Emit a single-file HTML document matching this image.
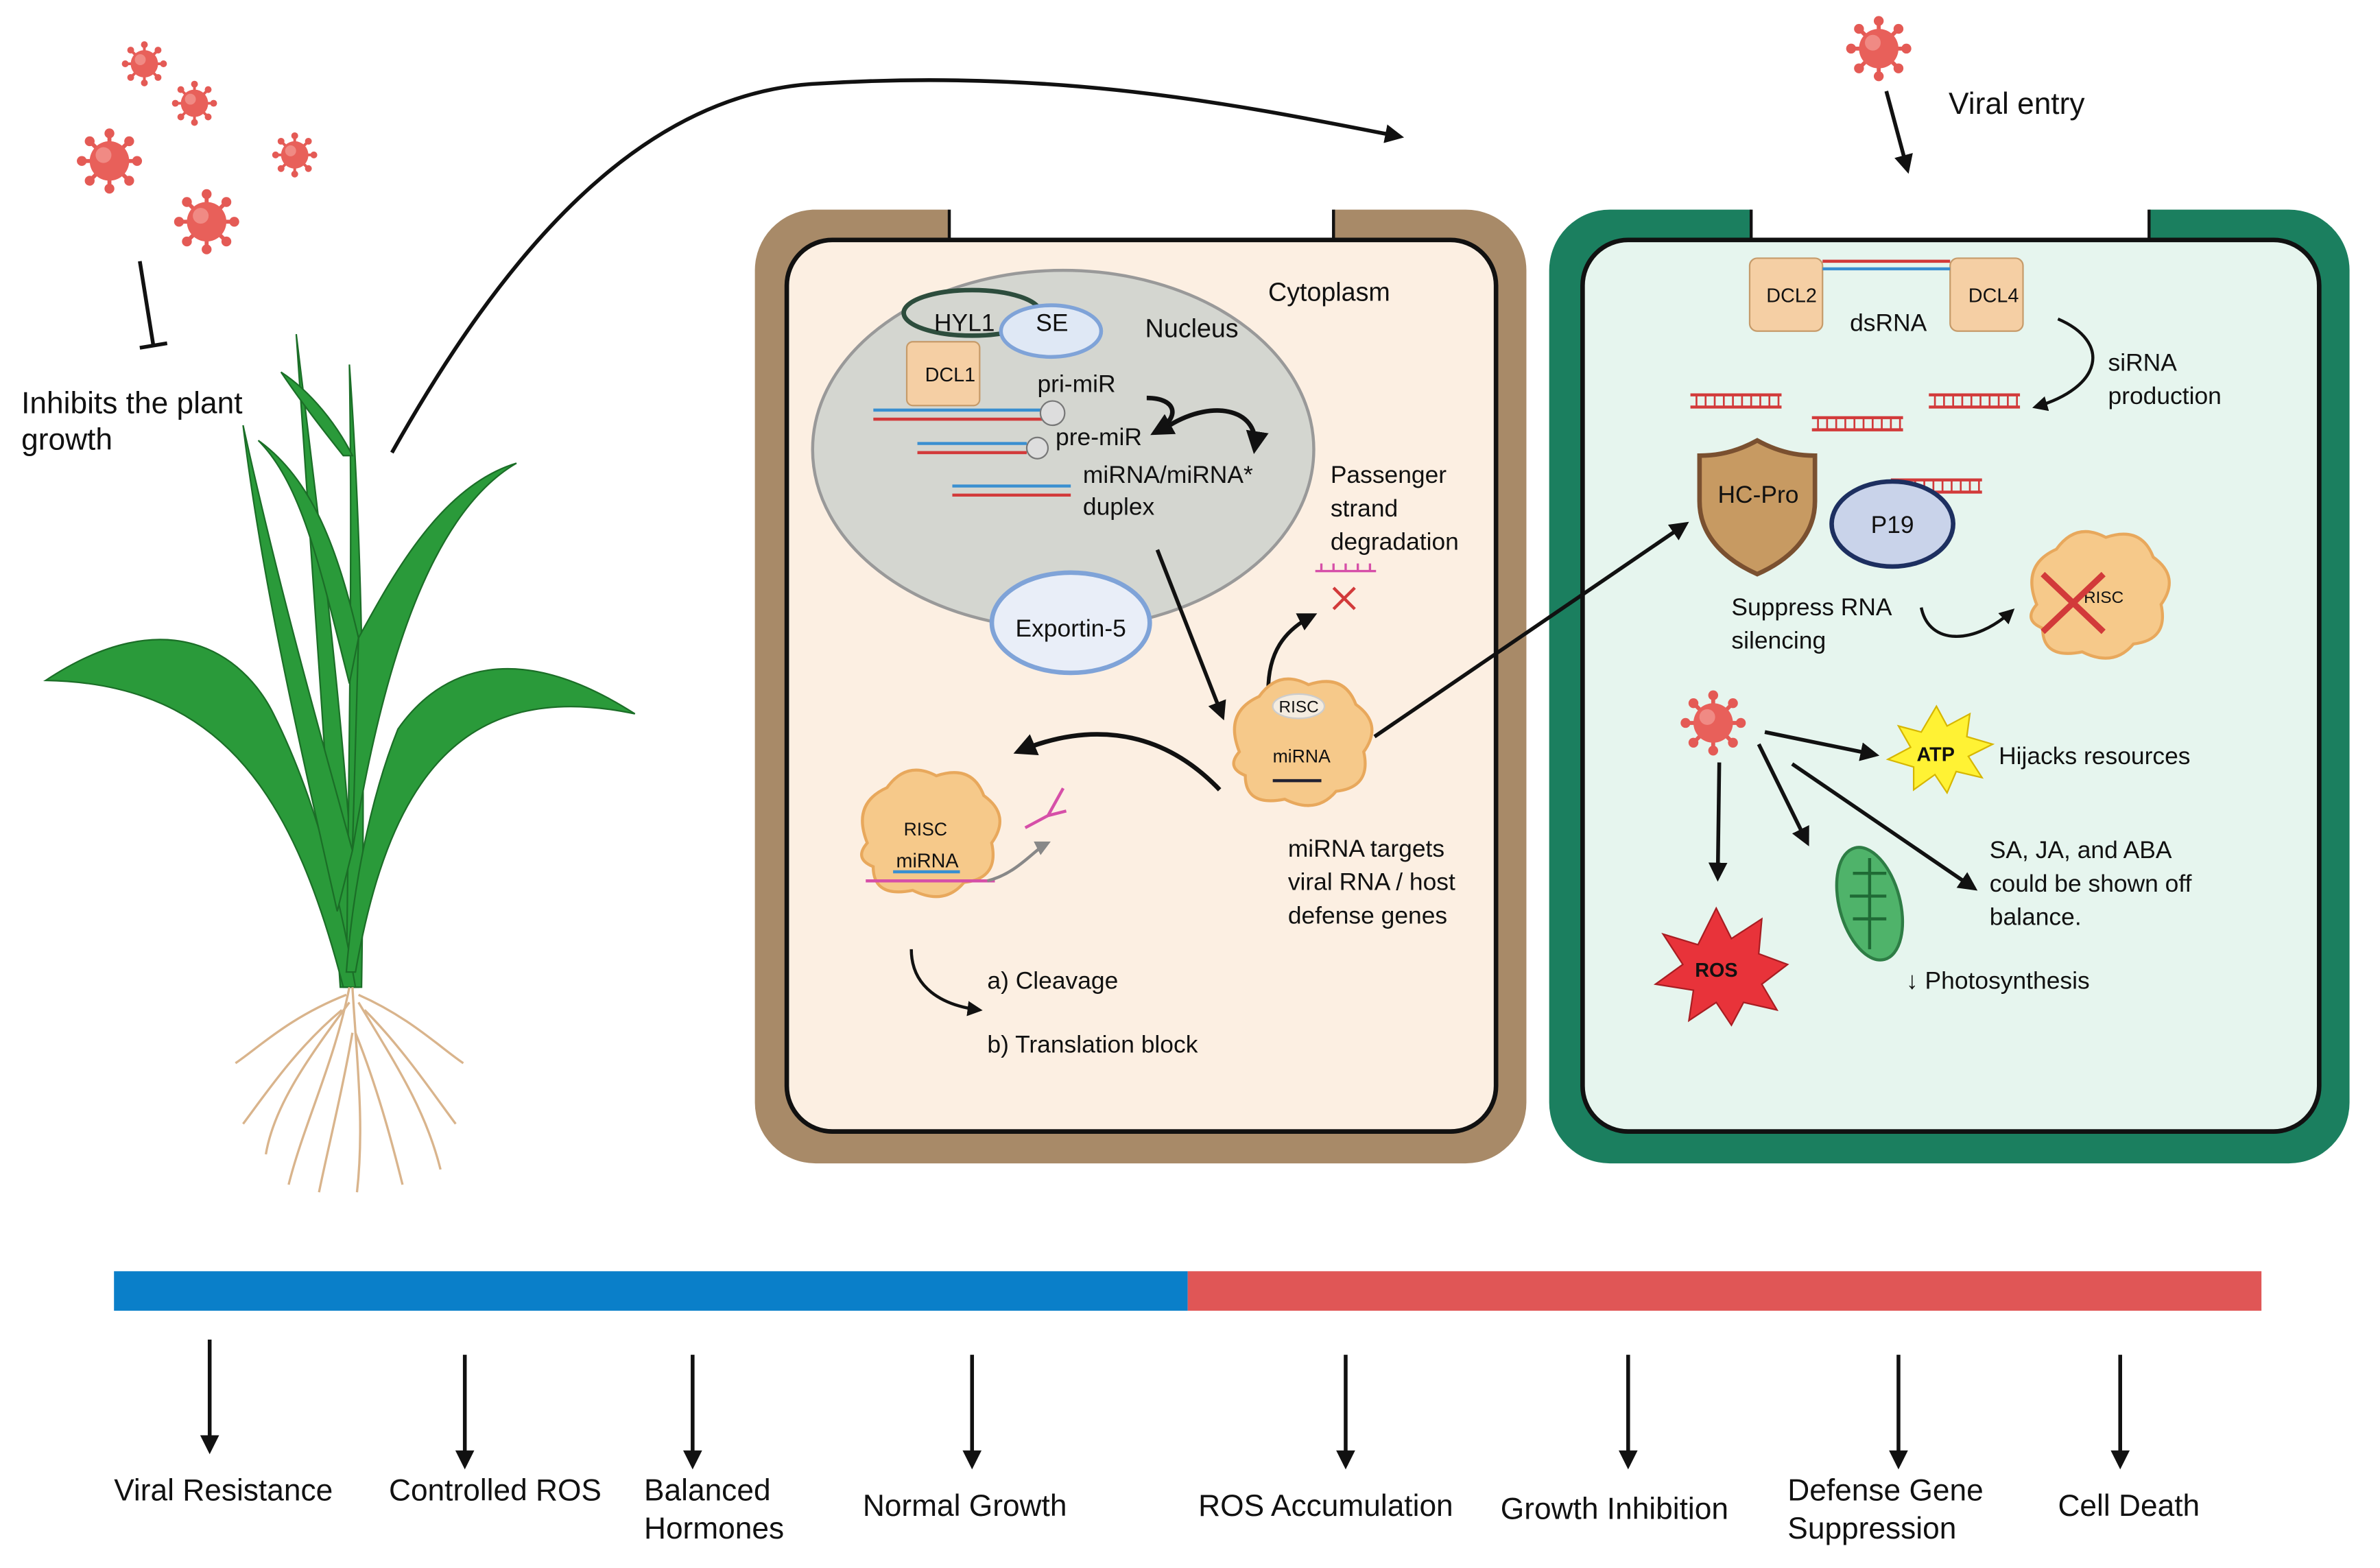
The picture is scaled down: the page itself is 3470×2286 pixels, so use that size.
<!DOCTYPE html>
<html><head><meta charset="utf-8"><style>
html,body{margin:0;padding:0;background:#fff}
svg{display:block}
text{font-family:"Liberation Sans",sans-serif;fill:#111}
</style></head><body>
<svg width="3470" height="2286" viewBox="0 0 1567 1032.4" xmlns="http://www.w3.org/2000/svg">
<defs>
<marker id="ah" viewBox="0 0 10 10" refX="8" refY="5" markerWidth="5" markerHeight="5" orient="auto-start-reverse"><path d="M0,0 L10,5 L0,10 z" fill="#111"/></marker>
<marker id="ahg" viewBox="0 0 10 10" refX="8" refY="5" markerWidth="5" markerHeight="5" orient="auto"><path d="M0,0 L10,5 L0,10 z" fill="#888"/></marker>
<g id="virus">
<g stroke="#e45a55" stroke-width="2">
<line x1="0" y1="-14" x2="0" y2="14"/><line x1="-14" y1="0" x2="14" y2="0"/>
<line x1="-10" y1="-10" x2="10" y2="10"/><line x1="-10" y1="10" x2="10" y2="-10"/>
</g>
<g fill="#e45a55"><circle cx="0" cy="-14" r="2.5"/><circle cx="0" cy="14" r="2.5"/><circle cx="-14" cy="0" r="2.5"/><circle cx="14" cy="0" r="2.5"/><circle cx="10" cy="10" r="2.5"/><circle cx="-10" cy="-10" r="2.5"/><circle cx="10" cy="-10" r="2.5"/><circle cx="-10" cy="10" r="2.5"/></g>
<circle r="10" fill="#e8605a"/><circle cx="-3" cy="-3" r="4" fill="#f08a84"/>
</g>
<g id="rna"><line x1="0" y1="0" x2="60" y2="0" stroke="#d23a3a" stroke-width="2"/><line x1="0" y1="8" x2="60" y2="8" stroke="#d23a3a" stroke-width="2"/>
<path d="M4,0v8M10,0v8M16,0v8M22,0v8M28,0v8M34,0v8M40,0v8M46,0v8M52,0v8M58,0v8" stroke="#d23a3a" stroke-width="1.2"/></g>
<g id="risc"><path d="M-30,0 q-8,-20 10,-28 q10,-14 25,-6 q18,-6 24,10 q14,10 4,24 q4,18 -14,20 q-10,12 -26,4 q-20,4 -20,-12 q-10,-4 -3,-12z" fill="#f6c98a" stroke="#e8a85c" stroke-width="1.5"/></g>
</defs>

<use href="#virus" transform="translate(95,42) scale(0.9)"/>
<use href="#virus" transform="translate(128,68) scale(0.9)"/>
<use href="#virus" transform="translate(72,106) scale(1.3)"/>
<use href="#virus" transform="translate(194,102) scale(0.9)"/>
<use href="#virus" transform="translate(136,146) scale(1.3)"/>
<line x1="92" y1="172" x2="101" y2="228" stroke="#111" stroke-width="2.5"/>
<line x1="92" y1="229" x2="110" y2="226" stroke="#111" stroke-width="2.5"/>
<text x="14" y="272" font-size="20">Inhibits the plant</text>
<text x="14" y="296" font-size="20">growth</text>

<path d="M258,298 C330,170 420,60 540,55 C700,45 820,70 922,90" fill="none" stroke="#111" stroke-width="2.5" marker-end="url(#ah)"/>

<g fill="#2a9a3a" stroke="#1b6e27" stroke-width="1">
<path d="M224,650 C215,500 205,380 195,220 C212,360 230,500 236,650z"/>
<path d="M228,650 C230,480 232,360 230,240 C240,380 240,520 238,650z"/>
<path d="M226,650 C195,530 150,450 30,448 C110,395 160,430 180,470 C205,520 222,580 234,650z"/>
<path d="M234,640 C255,520 300,445 418,470 C340,420 290,440 262,480 C242,530 232,590 228,640z"/>
<path d="M232,560 C250,450 280,340 340,305 C290,320 258,380 236,420z"/>
<path d="M222,600 C195,480 172,380 160,280 C182,380 207,470 232,560z"/>
<path d="M230,450 C212,380 200,320 170,290 C205,315 222,360 236,420z"/>
<path d="M226,300 C210,280 195,260 185,245 C205,258 222,280 232,300z"/>
</g>
<g stroke="#d9b48c" stroke-width="1.5" fill="none">
<path d="M230,650 C220,700 200,740 190,780"/><path d="M232,650 C235,700 240,740 235,785"/>
<path d="M228,655 C190,670 170,690 155,700"/><path d="M236,655 C270,670 290,690 305,700"/>
<path d="M230,660 C200,700 180,730 175,760"/><path d="M236,660 C260,700 280,730 290,770"/>
<path d="M225,665 C195,690 175,720 160,740"/><path d="M240,665 C265,690 285,720 300,740"/>
<path d="M232,680 C225,720 215,760 210,785"/><path d="M234,680 C250,720 260,760 265,780"/>
</g>

<!-- LEFT CELL -->
<path d="M535,138 H625 V158 H878 V138 H965 A40,40 0 0 1 1005,178 V726 A40,40 0 0 1 965,766 H537 A40,40 0 0 1 497,726 V178 A40,40 0 0 1 535,138z" fill="#a88a68"/>
<rect x="518" y="158" width="467" height="587" rx="30" fill="#fcefe2" stroke="#111" stroke-width="3"/>
<path d="M625,138 V158 M878,138 V158" stroke="#111" stroke-width="2"/>
<text x="835" y="198" font-size="17">Cytoplasm</text>
<ellipse cx="700" cy="296" rx="165" ry="118" fill="#d4d6d0" stroke="#999" stroke-width="2"/>
<text x="754" y="222" font-size="17">Nucleus</text>
<ellipse cx="640" cy="206" rx="45" ry="15" fill="#d4d6d0" stroke="#2d4d3d" stroke-width="3"/>
<text x="615" y="218" font-size="16">HYL1</text>
<ellipse cx="692" cy="218" rx="33" ry="17" fill="#dfe8f5" stroke="#7fa3d8" stroke-width="2.5"/>
<text x="682" y="218" font-size="16">SE</text>
<rect x="597" y="225" width="48" height="42" rx="4" fill="#f5cfa4" stroke="#c69b6a"/>
<text x="609" y="251" font-size="13">DCL1</text>
<g stroke-width="2"><line x1="575" y1="270" x2="690" y2="270" stroke="#3a8fd0"/><line x1="575" y1="276" x2="690" y2="276" stroke="#d23a3a"/></g>
<circle cx="693" cy="272" r="8" fill="#ddd" stroke="#777"/>
<text x="683" y="258" font-size="16">pri-miR</text>
<g stroke-width="2"><line x1="604" y1="292" x2="676" y2="292" stroke="#3a8fd0"/><line x1="604" y1="298" x2="676" y2="298" stroke="#d23a3a"/></g>
<circle cx="683" cy="295" r="7" fill="#ddd" stroke="#777"/>
<text x="695" y="293" font-size="16">pre-miR</text>
<g stroke-width="2"><line x1="627" y1="320" x2="705" y2="320" stroke="#3a8fd0"/><line x1="627" y1="326" x2="705" y2="326" stroke="#d23a3a"/></g>
<text x="713" y="318" font-size="16">miRNA/miRNA*</text>
<text x="713" y="339" font-size="16">duplex</text>
<path d="M755,262 C775,262 778,275 760,285" fill="none" stroke="#111" stroke-width="3" marker-end="url(#ah)"/>
<path d="M770,280 C800,262 830,270 826,296" fill="none" stroke="#111" stroke-width="3" marker-end="url(#ah)"/>
<ellipse cx="705" cy="410" rx="52" ry="33" fill="#e9eef8" stroke="#7fa3d8" stroke-width="3"/>
<text x="705" y="419" font-size="16" text-anchor="middle">Exportin-5</text>
<line x1="762" y1="362" x2="805" y2="472" stroke="#111" stroke-width="2.5" marker-end="url(#ah)"/>
<text x="876" y="318" font-size="16">Passenger</text>
<text x="876" y="340" font-size="16">strand</text>
<text x="876" y="362" font-size="16">degradation</text>
<path d="M866,376 h40 M870,376v-5 M878,376v-5 M886,376v-5 M894,376v-5 M902,376v-5" stroke="#d64fa8" stroke-width="1.5"/>
<path d="M878,387 l14,14 M892,387 l-14,14" stroke="#d23a3a" stroke-width="2"/>
<path d="M835,455 C835,430 845,415 865,405" fill="none" stroke="#111" stroke-width="2.5" marker-end="url(#ah)"/>
<use href="#risc" transform="translate(855,495) scale(1.3)"/>
<ellipse cx="855" cy="465" rx="17" ry="8" fill="#f4ece0" stroke="#ccc"/>
<text x="842" y="469" font-size="11" fill="#7a5a3a">RISC</text>
<text x="838" y="502" font-size="12">miRNA</text>
<path d="M838,514 h32" stroke="#223" stroke-width="2"/>
<text x="848" y="564" font-size="16">miRNA targets</text>
<text x="848" y="586" font-size="16">viral RNA / host</text>
<text x="848" y="608" font-size="16">defense genes</text>
<path d="M803,520 C760,475 710,478 670,495" fill="none" stroke="#111" stroke-width="3" marker-end="url(#ah)"/>
<use href="#risc" transform="translate(610,555) scale(1.3)"/>
<text x="595" y="550" font-size="12" fill="#7a5a3a">RISC</text>
<text x="590" y="571" font-size="13">miRNA</text>
<line x1="570" y1="580" x2="655" y2="580" stroke="#d64fa8" stroke-width="2"/>
<line x1="588" y1="574" x2="632" y2="574" stroke="#3a8fd0" stroke-width="2"/>
<path d="M650,580 C670,575 680,560 690,555" fill="none" stroke="#888" stroke-width="2" marker-end="url(#ahg)"/>
<path d="M675,545 l15,-8 l10,-18 M690,537 l12,-3" stroke="#d64fa8" stroke-width="2" fill="none"/>
<path d="M600,625 C600,650 620,662 645,665" fill="none" stroke="#111" stroke-width="2" marker-end="url(#ah)"/>
<text x="650" y="651" font-size="16">a) Cleavage</text>
<text x="650" y="693" font-size="16">b) Translation block</text>

<!-- RIGHT CELL -->
<path d="M1060,138 H1153 V158 H1415 V138 H1507 A40,40 0 0 1 1547,178 V726 A40,40 0 0 1 1507,766 H1060 A40,40 0 0 1 1020,726 V178 A40,40 0 0 1 1060,138z" fill="#1b7f5f"/>
<rect x="1042" y="158" width="485" height="587" rx="30" fill="#e6f5ee" stroke="#111" stroke-width="3"/>
<path d="M1153,138 V158 M1415,138 V158" stroke="#111" stroke-width="2"/>
<line x1="905" y1="485" x2="1110" y2="345" stroke="#111" stroke-width="2.5" marker-end="url(#ah)"/>
<use href="#virus" transform="translate(1237,32) scale(1.3)"/>
<line x1="1242" y1="60" x2="1256" y2="112" stroke="#111" stroke-width="2.5" marker-end="url(#ah)"/>
<text x="1283" y="75" font-size="20">Viral entry</text>
<rect x="1152" y="170" width="48" height="48" rx="5" fill="#f5cfa4" stroke="#c69b6a"/>
<text x="1163" y="199" font-size="13">DCL2</text>
<rect x="1284" y="170" width="48" height="48" rx="5" fill="#f5cfa4" stroke="#c69b6a"/>
<text x="1296" y="199" font-size="13">DCL4</text>
<line x1="1200" y1="172" x2="1284" y2="172" stroke="#d23a3a" stroke-width="2"/>
<line x1="1200" y1="177" x2="1284" y2="177" stroke="#3a8fd0" stroke-width="2"/>
<text x="1218" y="218" font-size="16">dsRNA</text>
<path d="M1355,210 C1390,225 1385,255 1340,268" fill="none" stroke="#111" stroke-width="2" marker-end="url(#ah)"/>
<text x="1388" y="244" font-size="16">siRNA</text>
<text x="1388" y="266" font-size="16">production</text>
<use href="#rna" transform="translate(1113,260)"/>
<use href="#rna" transform="translate(1193,275)"/>
<use href="#rna" transform="translate(1270,260)"/>
<use href="#rna" transform="translate(1245,316)"/>
<path d="M1157,290 C1175,300 1190,300 1195,300 V330 C1195,355 1175,370 1157,378 C1139,370 1119,355 1119,330 V300 C1124,300 1139,300 1157,290z" fill="#c79a62" stroke="#7a5030" stroke-width="3"/>
<text x="1131" y="331" font-size="16">HC-Pro</text>
<ellipse cx="1246" cy="345" rx="40" ry="28" fill="#c9d3ea" stroke="#1d2f60" stroke-width="3"/>
<text x="1246" y="351" font-size="16" text-anchor="middle">P19</text>
<text x="1140" y="405" font-size="16">Suppress RNA</text>
<text x="1140" y="427" font-size="16">silencing</text>
<path d="M1265,400 C1270,425 1300,425 1325,402" fill="none" stroke="#111" stroke-width="2" marker-end="url(#ah)"/>
<use href="#risc" transform="translate(1380,398) scale(1.3)"/>
<text x="1372" y="397" font-size="11" fill="#7a5a3a">RISC</text>
<path d="M1345,378 l40,38 M1385,378 l-40,38" stroke="#d23a3a" stroke-width="4"/>
<use href="#virus" transform="translate(1128,476) scale(1.3)"/>
<line x1="1132" y1="502" x2="1131" y2="578" stroke="#111" stroke-width="2.5" marker-end="url(#ah)"/>
<line x1="1158" y1="490" x2="1190" y2="555" stroke="#111" stroke-width="2.5" marker-end="url(#ah)"/>
<line x1="1162" y1="482" x2="1235" y2="497" stroke="#111" stroke-width="2.5" marker-end="url(#ah)"/>
<line x1="1180" y1="503" x2="1300" y2="585" stroke="#111" stroke-width="2.5" marker-end="url(#ah)"/>
<polygon points="1275,465 1282,478 1297,470 1295,485 1312,490 1296,498 1305,512 1288,508 1282,522 1274,510 1260,520 1260,505 1243,500 1258,492 1250,478 1265,482" fill="#fff234" stroke="#d6b600"/>
<text x="1262" y="501" font-size="13" font-weight="bold">ATP</text>
<text x="1316" y="503" font-size="16">Hijacks resources</text>
<text x="1310" y="565" font-size="16">SA, JA, and ABA</text>
<text x="1310" y="587" font-size="16">could be shown off</text>
<text x="1310" y="609" font-size="16">balance.</text>
<ellipse cx="1231" cy="595" rx="20" ry="38" transform="rotate(-15 1231 595)" fill="#4fb36a" stroke="#2e7d45" stroke-width="2"/>
<path d="M1220,575 h22 M1218,590 h24 M1220,605 h22 M1231,565 v60" stroke="#1f6a35" stroke-width="2"/>
<text x="1255" y="651" font-size="16">↓ Photosynthesis</text>
<polygon points="1130,598 1140,618 1160,605 1158,628 1177,635 1160,648 1170,665 1148,660 1140,675 1130,660 1112,672 1115,652 1090,648 1108,635 1095,615 1118,622" fill="#e8333a" stroke="#a81d22"/>
<text x="1116" y="643" font-size="13" font-weight="bold" fill="#fff">ROS</text>

<!-- BAR -->
<rect x="75" y="837" width="707" height="26" fill="#0a7fc9"/>
<rect x="782" y="837" width="707" height="26" fill="#e05656"/>
<g stroke="#111" stroke-width="2.5">
<line x1="138" y1="882" x2="138" y2="955" marker-end="url(#ah)"/>
<line x1="306" y1="892" x2="306" y2="965" marker-end="url(#ah)"/>
<line x1="456" y1="892" x2="456" y2="965" marker-end="url(#ah)"/>
<line x1="640" y1="892" x2="640" y2="965" marker-end="url(#ah)"/>
<line x1="886" y1="892" x2="886" y2="965" marker-end="url(#ah)"/>
<line x1="1072" y1="892" x2="1072" y2="965" marker-end="url(#ah)"/>
<line x1="1250" y1="892" x2="1250" y2="965" marker-end="url(#ah)"/>
<line x1="1396" y1="892" x2="1396" y2="965" marker-end="url(#ah)"/>
</g>
<g font-size="20">
<text x="75" y="988">Viral Resistance</text>
<text x="256" y="988">Controlled ROS</text>
<text x="424" y="988">Balanced</text>
<text x="424" y="1013">Hormones</text>
<text x="568" y="998">Normal Growth</text>
<text x="789" y="998">ROS Accumulation</text>
<text x="988" y="1000">Growth Inhibition</text>
<text x="1177" y="988">Defense Gene</text>
<text x="1177" y="1013">Suppression</text>
<text x="1355" y="998">Cell Death</text>
</g>
</svg>
</body></html>
